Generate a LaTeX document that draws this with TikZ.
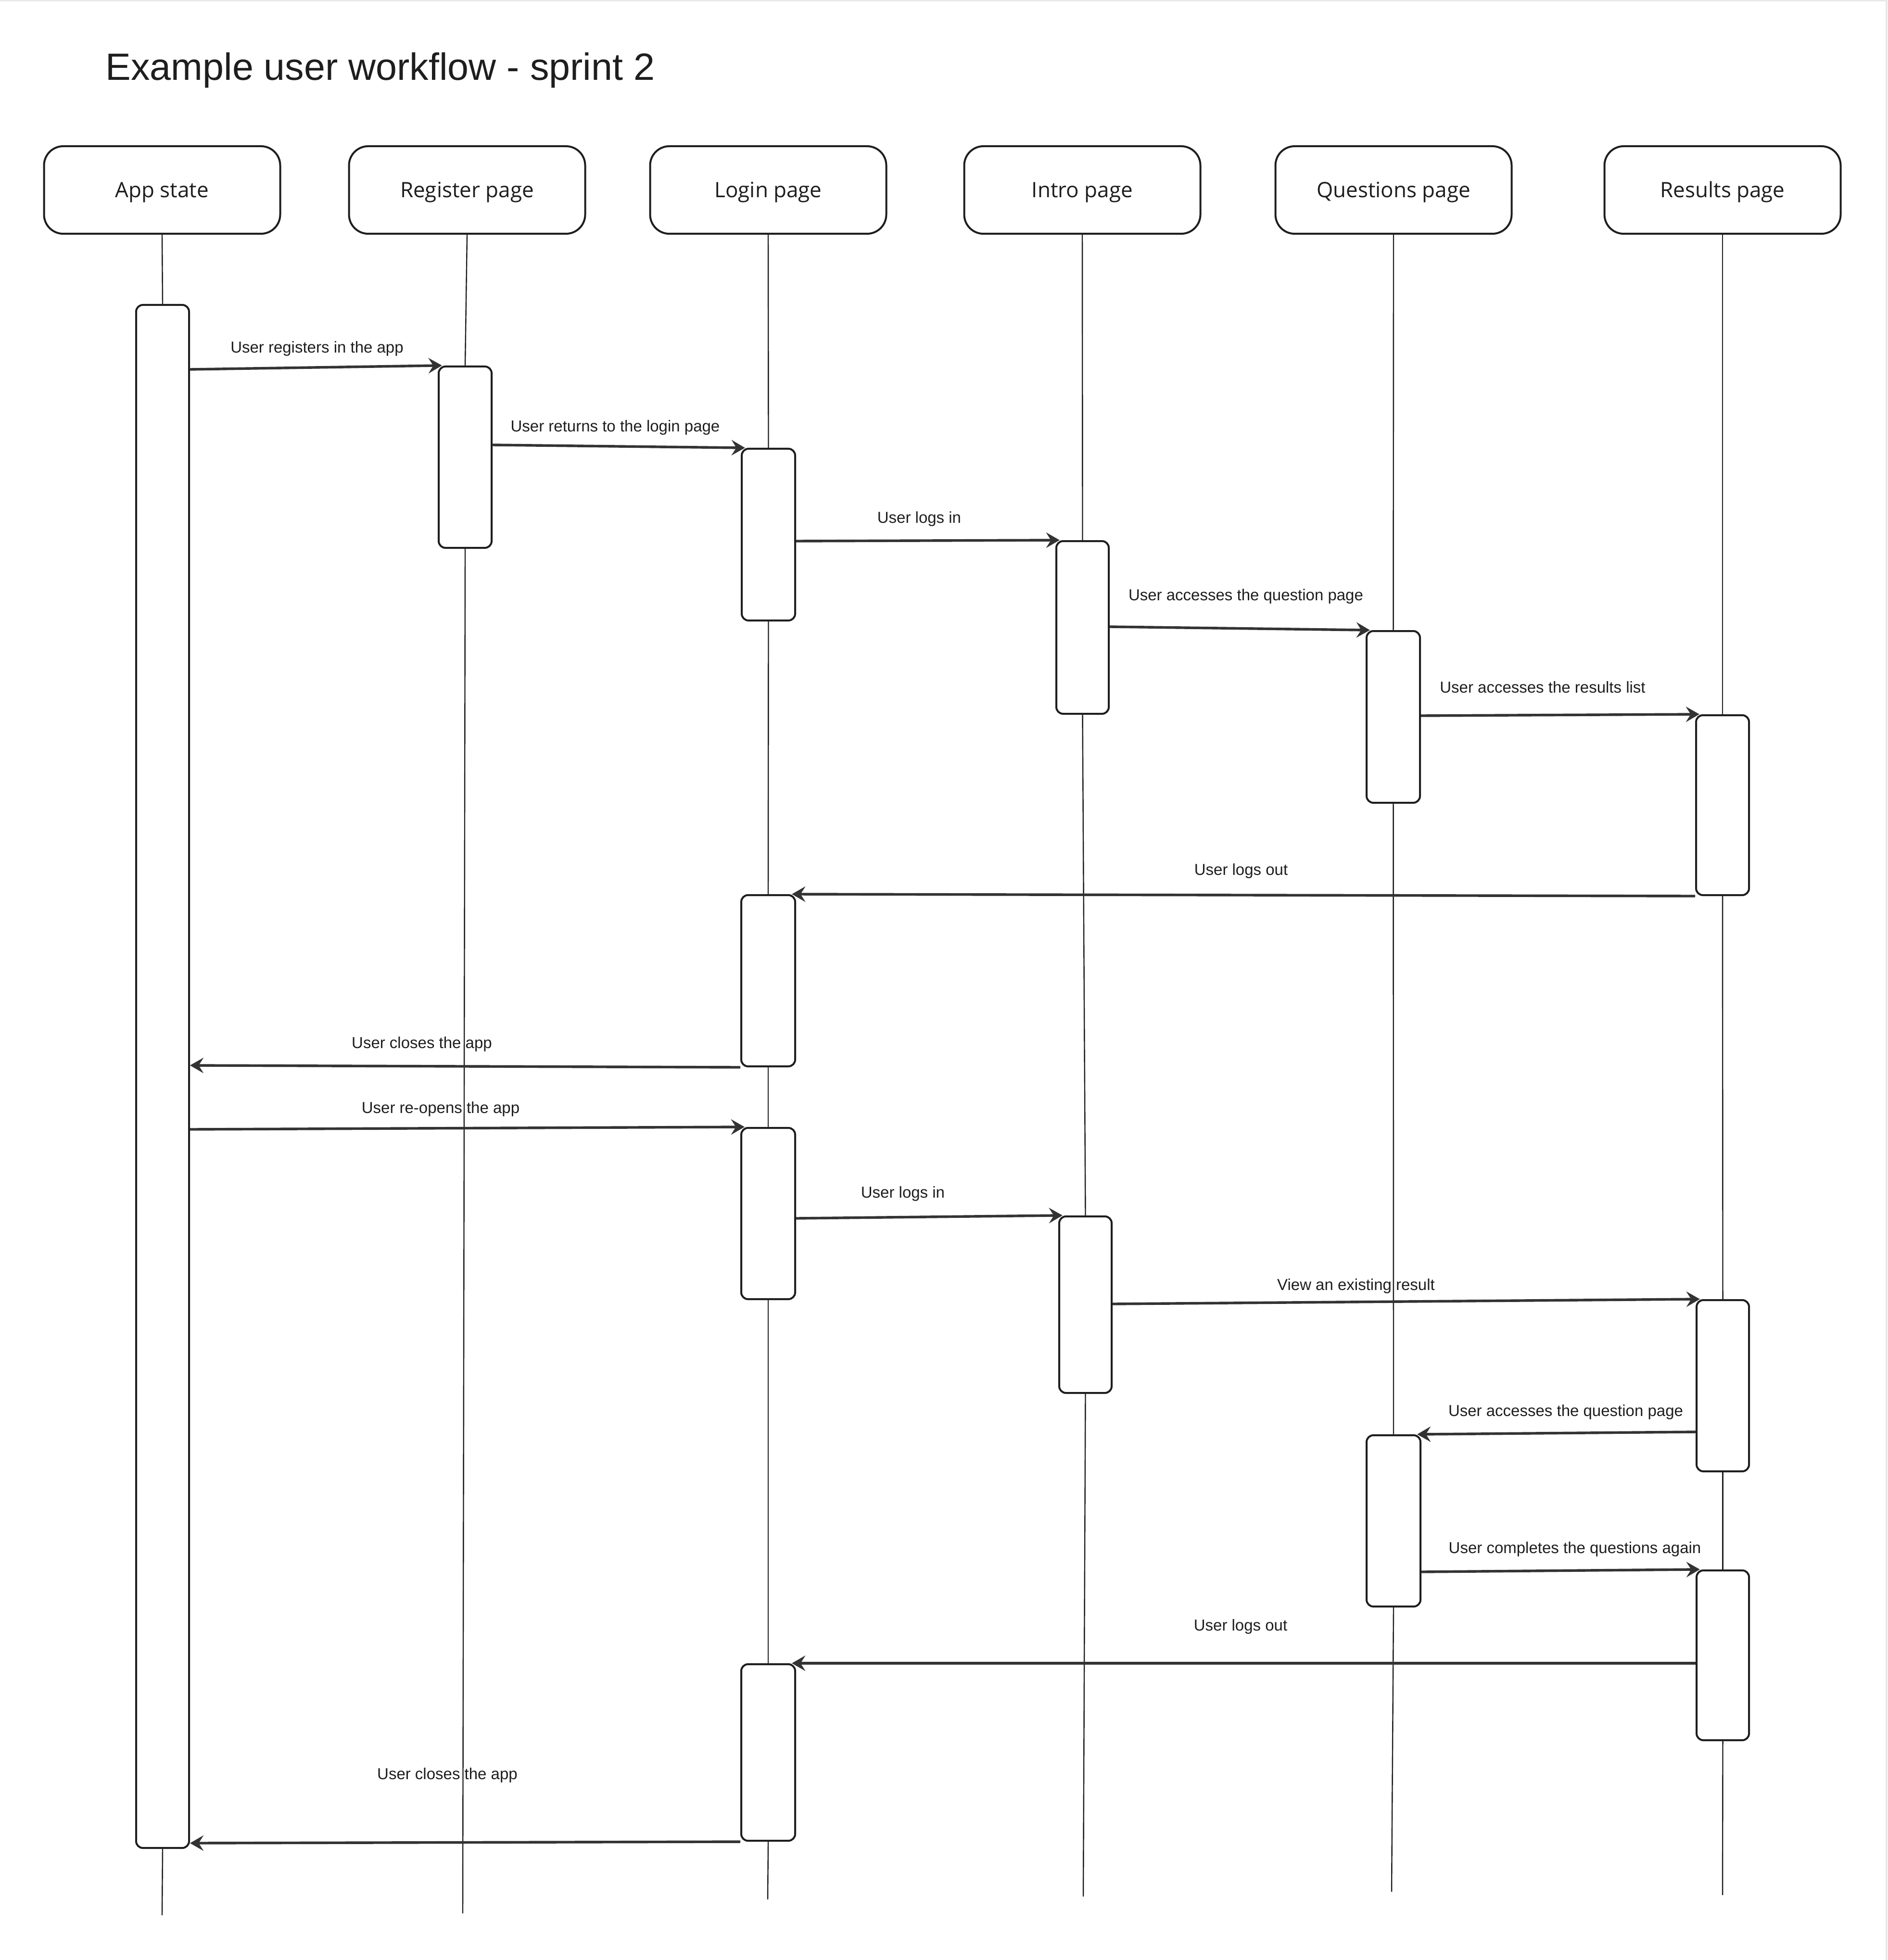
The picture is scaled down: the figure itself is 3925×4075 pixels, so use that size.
\documentclass[tikz,border=0pt]{standalone}
\usepackage{fontspec}
\setmainfont{Liberation Sans}
\newfontfamily\headfont{Open Sans}
\usetikzlibrary{arrows.meta,calc,fit}
\definecolor{ink}{HTML}{1E1E1E}
\definecolor{arrowgray}{HTML}{333333}
\definecolor{framegray}{HTML}{E8E8E8}

\begin{document}
\begin{tikzpicture}[x=0.25pt,y=-0.25pt,
  head/.style={draw=ink, line width=1pt, rounded corners=10pt,
    minimum width=122.75pt, minimum height=45.5pt, inner sep=0pt,
    text height=8pt, text depth=0pt,
    font=\headfont\fontsize{11}{13}\selectfont, text=ink},
  act/.style={draw=ink, line width=1pt, rounded corners=3.5pt,
    inner sep=0pt, fill=white},
  life/.style={draw=ink, line width=0.6pt},
  msg/.style={draw=arrowgray, line width=1.35pt,
    -{Stealth[length=7pt,width=8pt,inset=2.5pt]}},
  intobar/.style={shorten >=-2.2pt},
  lbl/.style={font=\fontsize{8.25}{10}\selectfont, text=ink, inner sep=0pt},
]
\useasboundingbox (0,0) rectangle (3925,4075);
\fill[white] (0,0) rectangle (3925,4075);
\draw[framegray, line width=1pt] (0,1) -- (3922,1) -- (3922,4075);

% title
\node[anchor=base west, inner sep=0pt, text=ink,
  font=\fontsize{19.75}{24}\selectfont] (title) at (219,167)
  {Example user workflow - sprint 2};

% participants
\node[head] (hApp) at (337,395) {App state};
\node[head] (hReg) at (971,395) {Register page};
\node[head] (hLog) at (1597,395) {Login page};
\node[head] (hInt) at (2250,395) {Intro page};
\node[head] (hQue) at (2897,395) {Questions page};
\node[head] (hRes) at (3581,395) {Results page};

% activation bars
\node[act, fit={(283,634) (393,3842)}] (a0) {};
\node[act, fit={(912,762) (1022,1139)}] (r1) {};
\node[act, fit={(1542,933) (1653,1290)}] (l1) {};
\node[act, fit={(2196,1125) (2305,1484)}] (i1) {};
\node[act, fit={(2841,1312) (2952,1669)}] (q1) {};
\node[act, fit={(3526,1487) (3636,1861)}] (s1) {};
\node[act, fit={(1541,1861) (1653,2217)}] (l2) {};
\node[act, fit={(1541,2345) (1653,2701)}] (l3) {};
\node[act, fit={(2202,2529) (2311,2896)}] (i2) {};
\node[act, fit={(3527,2703) (3636,3059)}] (s2) {};
\node[act, fit={(2841,2984) (2953,3340)}] (q2) {};
\node[act, fit={(3527,3265) (3636,3618)}] (s3) {};
\node[act, fit={(1541,3460) (1653,3827)}] (l4) {};

% lifeline ends
\coordinate (eApp) at (337,3982);
\coordinate (eReg) at (962,3978);
\coordinate (eLog) at (1596,3949);
\coordinate (eInt) at (2252,3943);
\coordinate (eQue) at (2893,3933);
\coordinate (eRes) at (3581,3940);

% lifelines
\draw[life] (hApp.south) -- (a0.north);
\draw[life] (a0.south) -- (eApp);
\draw[life] (hReg.south) -- (r1.north);
\draw[life] (r1.south) -- (eReg);
\draw[life] (hLog.south) -- (l1.north);
\draw[life] (l1.south) -- (l2.north);
\draw[life] (l2.south) -- (l3.north);
\draw[life] (l3.south) -- (l4.north);
\draw[life] (l4.south) -- (eLog);
\draw[life] (hInt.south) -- (i1.north);
\draw[life] (i1.south) -- (i2.north);
\draw[life] (i2.south) -- (eInt);
\draw[life] (hQue.south) -- (q1.north);
\draw[life] (q1.south) -- (q2.north);
\draw[life] (q2.south) -- (eQue);
\draw[life] (hRes.south) -- (s1.north);
\draw[life] (s1.south) -- (s2.north);
\draw[life] (s2.south) -- (s3.north);
\draw[life] (s3.south) -- (eRes);

% messages
\draw[msg, intobar] ($(a0.north east)+(0,136)$) -- (r1.north west);
\draw[msg, intobar] ($(r1.north east)+(0,165)$) -- (l1.north west);
\draw[msg, intobar] ($(l1.north east)+(0,194)$) -- (i1.north west);
\draw[msg, intobar] ($(i1.north east)+(0,180)$) -- (q1.north west);
\draw[msg, intobar] ($(q1.north east)+(0,178)$) -- (s1.north west);
\draw[msg, intobar] (s1.south west) -- (l2.north east);
\draw[msg] (l2.south west) -- ($(a0.north east)+(0,1583)$);
\draw[msg, intobar] ($(a0.north east)+(0,1716)$) -- (l3.north west);
\draw[msg, intobar] ($(l3.north east)+(0,190)$) -- (i2.north west);
\draw[msg, intobar] ($(i2.north east)+(0,184)$) -- (s2.north west);
\draw[msg, intobar] ($(s2.north west)+(0,276)$) -- (q2.north east);
\draw[msg, intobar] ($(q2.north east)+(0,286)$) -- (s3.north west);
\draw[msg, intobar] ($(s3.north west)+(0,195)$) -- (l4.north east);
\draw[msg] (l4.south west) -- ($(a0.north east)+(0,3200)$);

% message labels
\node[lbl] (t1) at (659,725) {User registers in the app};
\node[lbl] (t2) at (1279,889) {User returns to the login page};
\node[lbl] (t3) at (1911,1079) {User logs in};
\node[lbl] (t4) at (2590,1240) {User accesses the question page};
\node[lbl] (t5) at (3207,1429) {User accesses the results list};
\node[lbl] (t6) at (2580,1811) {User logs out};
\node[lbl] (t7) at (877,2171) {User closes the app};
\node[lbl] (t8) at (916,2306) {User re-opens the app};
\node[lbl] (t9) at (1877,2482) {User logs in};
\node[lbl] (t10) at (2819,2674) {View an existing result};
\node[lbl] (t11) at (3255,2936) {User accesses the question page};
\node[lbl] (t12) at (3274,3221) {User completes the questions again};
\node[lbl] (t13) at (2579,3382) {User logs out};
\node[lbl] (t14) at (930,3691) {User closes the app};
\end{tikzpicture}
\end{document}
